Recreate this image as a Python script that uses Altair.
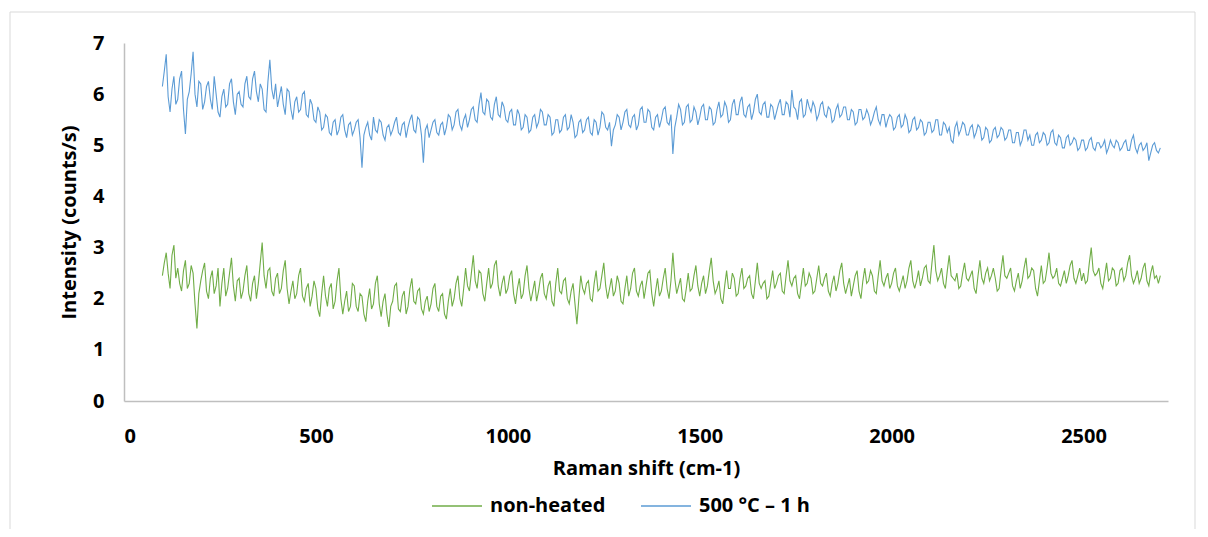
import altair as alt
import pandas as pd

x_start = 100
x_step = 5

blue = [
    6.15, 6.45, 6.78, 5.95, 5.65, 6.1, 6.35, 5.8, 5.9, 6.3, 6.45, 5.7, 5.22, 5.9, 6.05, 6.4, 6.83, 6.0, 5.75, 6.25,
    6.2, 5.7, 5.85, 6.15, 6.25, 5.9, 5.7, 6.35, 6.0, 5.65, 5.55, 5.95, 6.1, 5.75, 5.8, 6.2, 6.3, 5.85, 5.6, 6.0,
    6.05, 5.8, 5.75, 6.2, 6.35, 5.95, 5.9, 6.3, 6.45, 6.05, 5.85, 6.2, 6.1, 5.7, 5.65, 6.25, 6.67, 6.1, 5.9, 6.2,
    5.75, 5.95, 6.15, 5.8, 5.6, 6.1, 6.05, 5.7, 5.5, 5.85, 5.95, 5.65, 5.7, 6.0, 6.05, 5.6, 5.55, 5.9, 5.8, 5.5,
    5.45, 5.75, 5.65, 5.3, 5.35, 5.6, 5.55, 5.25, 5.2, 5.45, 5.5, 5.2, 5.3, 5.55, 5.6, 5.3, 5.15, 5.4, 5.45, 5.2,
    5.3, 5.45, 5.5, 5.15, 4.56, 5.2, 5.35, 5.45, 5.2, 5.1, 5.55, 5.3, 5.25, 5.5, 5.45, 5.2, 5.1, 5.35, 5.4, 5.2,
    5.3, 5.45, 5.55, 5.25, 5.2, 5.4, 5.45, 5.15, 5.35, 5.5, 5.6, 5.3, 5.25, 5.55, 5.5, 5.2, 4.66, 5.3, 5.4, 5.15,
    5.3, 5.45, 5.5, 5.25, 5.2, 5.4, 5.45, 5.2, 5.35, 5.6, 5.55, 5.3, 5.4, 5.65, 5.7, 5.4, 5.3, 5.5, 5.6, 5.35,
    5.5, 5.7, 5.75, 5.5, 5.45, 5.8, 6.03, 5.65, 5.6, 5.9, 5.85, 5.55, 5.5, 5.8, 5.95, 5.6, 5.55, 5.85, 5.75, 5.5,
    5.45, 5.65, 5.7, 5.4, 5.4, 5.7, 5.6, 5.3, 5.35, 5.6, 5.55, 5.25, 5.3, 5.55, 5.6, 5.35, 5.45, 5.7, 5.65, 5.4,
    5.4, 5.6, 5.55, 5.2, 5.25, 5.5, 5.5, 5.25, 5.3, 5.55, 5.6, 5.3, 5.35, 5.6, 5.45, 5.15, 5.2, 5.45, 5.5, 5.25,
    5.3, 5.5, 5.55, 5.25, 5.2, 5.5, 5.45, 5.2, 5.35, 5.65, 5.6, 5.35, 5.3, 5.45, 4.98, 5.3, 5.4, 5.6, 5.55, 5.3,
    5.45, 5.65, 5.7, 5.4, 5.35, 5.55, 5.6, 5.3, 5.4, 5.7, 5.75, 5.45, 5.45, 5.7, 5.65, 5.35, 5.3, 5.55, 5.6, 5.35,
    5.5, 5.7, 5.75, 5.45, 5.4, 5.6, 4.83, 5.35, 5.55, 5.8, 5.7, 5.4, 5.45, 5.75, 5.8, 5.45, 5.5, 5.75, 5.65, 5.4,
    5.55, 5.75, 5.8, 5.5, 5.5, 5.75, 5.7, 5.4, 5.45, 5.7, 5.85, 5.55, 5.6, 5.85, 5.75, 5.45, 5.5, 5.8, 5.9, 5.6,
    5.6, 5.85, 5.95, 5.6, 5.55, 5.75, 5.8, 5.5, 5.65, 5.9, 6.0, 5.65, 5.6, 5.8, 5.85, 5.55, 5.55, 5.8, 5.75, 5.5,
    5.65, 5.8, 5.9, 5.6, 5.6, 5.85, 5.8, 5.55, 6.08, 5.75, 5.7, 5.5, 5.85, 5.9, 5.55, 5.6, 5.9, 5.75, 5.65, 5.85,
    5.75, 5.5, 5.6, 5.8, 5.85, 5.6, 5.55, 5.75, 5.7, 5.45, 5.5, 5.7, 5.8, 5.55, 5.6, 5.75, 5.75, 5.5, 5.5, 5.7,
    5.65, 5.4, 5.45, 5.7, 5.7, 5.5, 5.55, 5.7, 5.6, 5.4, 5.5, 5.65, 5.75, 5.5, 5.4, 5.6, 5.6, 5.35, 5.5, 5.6,
    5.55, 5.3, 5.35, 5.55, 5.6, 5.35, 5.4, 5.6, 5.5, 5.25, 5.3, 5.5, 5.55, 5.3, 5.35, 5.5, 5.45, 5.2, 5.25, 5.45,
    5.45, 5.25, 5.3, 5.5, 5.5, 5.2, 5.2, 5.45, 5.4, 5.25, 5.35, 5.1, 5.05, 5.35, 5.45, 5.2, 5.3, 5.45, 5.4, 5.2,
    5.2, 5.35, 5.4, 5.15, 5.25, 5.4, 5.35, 5.1, 5.15, 5.35, 5.3, 5.05, 5.1, 5.3, 5.35, 5.15, 5.2, 5.35, 5.3, 5.1,
    5.15, 5.3, 5.3, 5.05, 5.05, 5.25, 5.25, 5.0, 5.1, 5.3, 5.3, 5.1, 5.2, 5.0, 5.0, 5.2, 5.25, 5.05, 5.1, 5.25,
    5.2, 5.0, 5.05, 5.25, 5.3, 5.05, 5.0, 5.2, 5.15, 4.95, 4.95, 5.15, 5.2, 5.0, 5.05, 5.15, 5.1, 4.9, 4.95, 5.1,
    5.1, 4.9, 4.95, 5.1, 5.15, 4.95, 4.9, 5.05, 5.05, 4.95, 5.0, 5.1, 4.85, 4.95, 5.1, 5.0, 4.95, 5.1, 5.05, 4.9,
    4.95, 5.05, 5.1, 4.9, 4.9, 5.1, 5.2, 4.95, 4.85, 5.0, 5.05, 4.9, 4.95, 5.05, 4.7, 4.85, 5.0, 5.05, 4.9, 4.85,
    4.95,
]

green = [
    2.45, 2.7, 2.9, 2.5, 2.2, 2.85, 3.05, 2.4, 2.6, 2.3, 2.15, 2.55, 2.75, 2.2, 2.3, 2.65, 2.5, 1.9, 1.42, 2.1,
    2.35, 2.55, 2.7, 2.15, 2.0, 2.4, 2.55, 2.1, 2.25, 2.6, 1.85, 2.3, 2.6, 2.05, 2.2, 2.5, 2.8, 2.25, 1.95, 2.35,
    2.4, 2.0, 2.15, 2.45, 2.65, 2.1, 1.95, 2.3, 2.45, 2.0, 2.3, 2.7, 3.1, 2.45, 2.2, 2.55, 2.6, 2.15, 2.05, 2.4,
    2.5, 2.1, 2.2, 2.55, 2.75, 2.2, 1.9, 2.15, 2.35, 2.0, 2.1, 2.45, 2.6, 2.05, 1.95, 2.2, 2.3, 1.85, 2.05, 2.35,
    2.2, 1.8, 1.65, 2.1, 2.45, 2.05, 1.85, 2.2, 2.3, 1.8, 1.95, 2.35, 2.6, 2.0, 1.7, 1.95, 2.15, 1.75, 1.85, 2.3,
    2.25, 1.85, 1.75, 2.1, 2.05, 1.7, 1.55, 1.95, 2.2, 1.8, 1.9, 2.3, 2.45, 1.9, 1.65, 1.95, 2.1, 1.7, 1.45, 1.85,
    1.95, 2.25, 2.3, 1.8, 1.75, 2.05, 2.15, 1.7, 1.85, 2.2, 2.4, 1.95, 1.9, 2.15, 2.2, 1.8, 1.7, 1.95, 2.05, 1.75,
    1.9, 2.2, 2.3, 1.85, 1.75, 2.05, 2.1, 1.7, 1.6, 1.95, 2.2, 1.85, 2.0, 2.3, 2.45, 2.0, 1.85, 2.2, 2.6, 2.25,
    2.15, 2.5, 2.85, 2.35, 2.2, 2.55, 2.5, 2.1, 1.95, 2.3, 2.6, 2.2, 2.3, 2.65, 2.75, 2.25, 2.05, 2.3, 2.45, 2.1,
    2.2, 2.45, 2.55, 2.1, 1.9, 2.2, 2.4, 2.0, 2.1, 2.45, 2.65, 2.2, 1.95, 2.15, 2.35, 1.95, 2.15, 2.4, 2.5, 2.1,
    2.0, 2.25, 2.35, 1.95, 1.85, 2.3, 2.6, 2.15, 2.1, 2.35, 2.4, 2.0, 1.9, 2.15, 2.3, 1.9, 1.5, 2.0, 2.45, 2.2,
    2.1, 2.3, 2.35, 2.0, 1.95, 2.3, 2.55, 2.15, 2.2, 2.45, 2.7, 2.25, 2.0, 2.2, 2.4, 2.05, 2.15, 2.45, 2.3, 1.95,
    1.9, 2.2, 2.45, 2.05, 2.2, 2.5, 2.6, 2.15, 2.05, 2.25, 2.35, 2.0, 2.25, 2.5, 2.55, 2.1, 1.85, 2.15, 2.4, 2.05,
    2.15, 2.4, 2.6, 2.2, 2.0, 2.35, 2.9, 2.4, 2.1, 2.25, 2.4, 2.0, 1.95, 2.2, 2.5, 2.15, 2.2, 2.45, 2.65, 2.25,
    2.05, 2.3, 2.45, 2.1, 2.25, 2.55, 2.8, 2.35, 2.1, 2.2, 2.35, 2.0, 1.9, 2.25, 2.55, 2.2, 2.2, 2.5, 2.4, 2.05,
    2.1, 2.4, 2.6, 2.2, 2.25, 2.4, 2.45, 2.1, 2.0, 2.35, 2.7, 2.3, 2.2, 2.3, 2.35, 2.0, 2.05, 2.3, 2.55, 2.2,
    2.3, 2.45, 2.5, 2.15, 2.1, 2.45, 2.75, 2.35, 2.25, 2.4, 2.45, 2.1, 2.0, 2.3, 2.6, 2.25, 2.3, 2.5, 2.4, 2.1,
    2.15, 2.4, 2.65, 2.3, 2.25, 2.4, 2.5, 2.15, 2.05, 2.3, 2.45, 2.15, 2.3, 2.55, 2.7, 2.3, 2.1, 2.25, 2.4, 2.05,
    2.25, 2.45, 2.55, 2.15, 2.0, 2.35, 2.6, 2.3, 2.35, 2.55, 2.45, 2.15, 2.1, 2.45, 2.75, 2.35, 2.25, 2.4, 2.5, 2.2,
    2.3, 2.5, 2.6, 2.25, 2.15, 2.3, 2.45, 2.2, 2.35, 2.6, 2.75, 2.35, 2.2, 2.35, 2.55, 2.25, 2.4, 2.6, 2.65, 2.35,
    2.3, 2.7, 3.05, 2.55, 2.35, 2.45, 2.6, 2.3, 2.2, 2.55, 2.85, 2.45, 2.4, 2.35, 2.5, 2.2, 2.25, 2.5, 2.7, 2.4,
    2.35, 2.45, 2.55, 2.2, 2.1, 2.45, 2.75, 2.4, 2.3, 2.5, 2.6, 2.35, 2.45, 2.6, 2.4, 2.15, 2.2, 2.55, 2.85, 2.45,
    2.4, 2.5, 2.6, 2.25, 2.15, 2.35, 2.5, 2.2, 2.35, 2.6, 2.8, 2.4, 2.45, 2.6, 2.55, 2.2, 2.05, 2.35, 2.65, 2.3,
    2.35, 2.6, 2.9, 2.5, 2.4, 2.45, 2.6, 2.3, 2.25, 2.4, 2.55, 2.3, 2.45, 2.65, 2.75, 2.4, 2.3, 2.45, 2.6, 2.35,
    2.5, 2.3, 2.35, 2.7, 3.0, 2.55, 2.45, 2.5, 2.6, 2.3, 2.2, 2.45, 2.7, 2.35, 2.4, 2.6, 2.55, 2.25, 2.3, 2.55,
    2.6, 2.35, 2.45, 2.7, 2.85, 2.45, 2.3, 2.4, 2.55, 2.3, 2.4, 2.6, 2.7, 2.35, 2.25, 2.5, 2.65, 2.4, 2.45, 2.3,
    2.45,
]

series_names = ["non-heated", "500 °C – 1 h"]
series_colors = ["#70AD47", "#5B9BD5"]
x_ticks = [0, 500, 1000, 1500, 2000, 2500]
y_ticks = [0, 1, 2, 3, 4, 5, 6, 7]

rows = []
for name, vals in zip(series_names, [green, blue]):
    for i, v in enumerate(vals):
        rows.append({"shift": x_start + i * x_step, "intensity": v, "series": name})
df = pd.DataFrame(rows)

FONT = "Open Sans"

lines = alt.Chart(df).mark_line(strokeWidth=1.1).encode(
    x=alt.X("shift:Q", scale=alt.Scale(domain=[0, 2720], nice=False, zero=False),
            axis=alt.Axis(title="Raman shift (cm-1)", values=x_ticks, grid=False, ticks=False,
                          domainColor="#BFBFBF", domainWidth=1.5, labelPadding=25,
                          titlePadding=12, format="d")),
    y=alt.Y("intensity:Q", scale=alt.Scale(domain=[0, 7], nice=False),
            axis=alt.Axis(title="Intensity (counts/s)", values=y_ticks, grid=False, ticks=False,
                          domainColor="#BFBFBF", domainWidth=1.5, labelPadding=20,
                          titlePadding=13)),
    color=alt.Color("series:N", scale=alt.Scale(domain=series_names, range=series_colors),
                    sort=series_names,
                    legend=alt.Legend(title=None, orient="none", legendX=307, legendY=437,
                                      direction="horizontal", symbolType="stroke",
                                      symbolSize=2500, symbolStrokeWidth=1.5,
                                      labelOffset=7, columnPadding=32)),
    detail="series:N",
)

border = alt.Chart(pd.DataFrame({"a": [0]})).mark_rect(
    fill=None, stroke="#D9D9D9", strokeWidth=1
).encode(
    x=alt.value(-114), x2=alt.value(1071), y=alt.value(-31), y2=alt.value(500)
)

chart = alt.layer(border, lines).properties(
    width=1044, height=358,
    background="white",
    autosize=alt.AutoSizeParams(type="none"),
    padding={"left": 116, "top": 35, "right": 32, "bottom": 128},
).configure_view(stroke=None).configure_axis(
    labelFont=FONT, titleFont=FONT, labelFontSize=20, titleFontSize=20,
    labelFontWeight="bold", titleFontWeight="bold", labelColor="#000000", titleColor="#000000",
).configure_legend(
    labelFont=FONT, labelFontSize=20, labelFontWeight="bold", labelColor="#000000",
)

chart.save("out.html", embed_options={"renderer": "svg", "actions": False})
